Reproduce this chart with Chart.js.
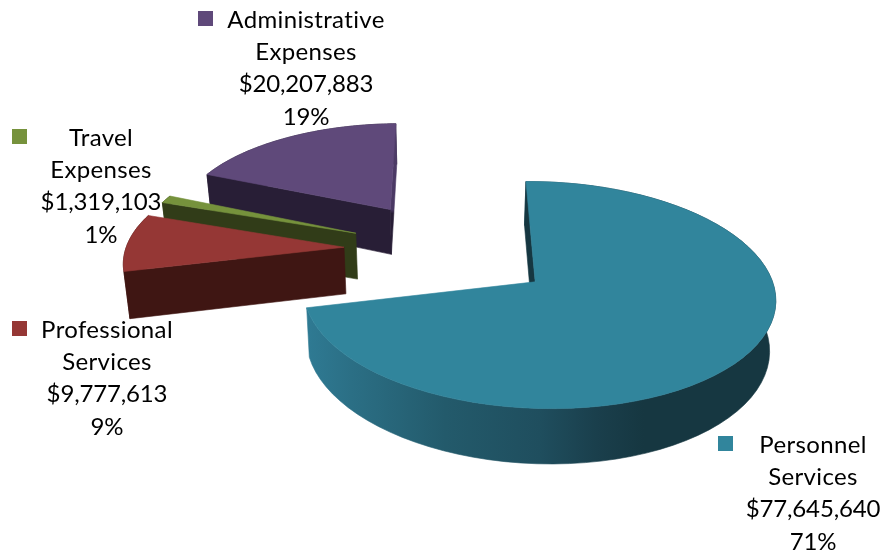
<!DOCTYPE html>
<html>
<head>
<meta charset="utf-8">
<title>Expenses by category</title>
<style>
  html, body { margin: 0; padding: 0; background: #fff; }
  canvas { display: block; }
</style>
<script src="https://cdn.jsdelivr.net/npm/chart.js@4"></script>
</head>
<body>
<canvas id="pie" width="888" height="554"></canvas>
<script>
// Expense totals, clockwise from the top
const categories = ['Personnel Services', 'Professional Services', 'Travel Expenses', 'Administrative Expenses'];
const amounts = [77645640, 9777613, 1319103, 20207883];

const topColors = ['#31859c', '#953735', '#76923c', '#5f497a'];
const sideColors = ['#163741', '#3f1613', '#313c18', '#281e36'];
const explode = [108, 104, 100, 108];

// Where each label block sits: centre of the text, first line, and its colour key
const labelSpots = [
  { x: 813, y: 445, keyX: 718, keyY: 436 },
  { x: 107, y: 330, keyX: 12, keyY: 321 },
  { x: 101, y: 138, keyX: 12, keyY: 129 },
  { x: 306, y: 20, keyX: 198, keyY: 11 }
];

const THICKNESS = 47;
const TILT = 0.4646;
const DEPTH_K = 0.0005;
const SIDE_K = 0.00006;
const NARROW = 0.0004;

// Flat pie coordinates to screen, with a little perspective
function project(arc, u, v, h) {
  const f = 1 / (1 - DEPTH_K * v - SIDE_K * u);
  return {
    x: arc.x + u * f * (1 - NARROW * h),
    y: arc.y + (v * TILT + h) * f
  };
}

function rimPoints(arc, h, reverse) {
  const mid = (arc.startAngle + arc.endAngle) / 2;
  const ox = Math.cos(mid) * arc.options.offset;
  const oy = Math.sin(mid) * arc.options.offset;
  const pts = [];
  const steps = 72;
  for (let i = 0; i <= steps; i++) {
    const t = reverse ? 1 - i / steps : i / steps;
    const a = arc.startAngle + (arc.endAngle - arc.startAngle) * t;
    pts.push(project(arc, ox + Math.cos(a) * arc.outerRadius, oy + Math.sin(a) * arc.outerRadius, h));
  }
  return { pts, apex: project(arc, ox, oy, h) };
}

function fillShape(ctx, pts, color) {
  ctx.beginPath();
  pts.forEach((p, i) => (i ? ctx.lineTo(p.x, p.y) : ctx.moveTo(p.x, p.y)));
  ctx.closePath();
  ctx.fillStyle = color;
  ctx.fill();
  ctx.strokeStyle = color;
  ctx.lineWidth = 0.6;
  ctx.stroke();
}

// A cut face shows only when the slice lies on the far side of its top edge
function cutFaces(apex, corner, near) {
  const ex = corner.x - apex.x, ey = corner.y - apex.y;
  const down = ex;
  const inside = ex * (near.y - apex.y) - ey * (near.x - apex.x);
  return down * inside < 0;
}

function drawSlice(ctx, arc, index) {
  const top = rimPoints(arc, 0, false);
  const low = rimPoints(arc, THICKNESS, false);
  const lowBack = rimPoints(arc, THICKNESS, true);
  const n = top.pts.length - 1;
  const first = top.pts[0], last = top.pts[n];
  const side = sideColors[index];

  // outer wall, shaded left to right on the big slice
  let wallFill = side;
  if (index === 0) {
    wallFill = ctx.createLinearGradient(304, 0, 776, 0);
    wallFill.addColorStop(0, '#2f7b94');
    wallFill.addColorStop(0.1, '#2b6f85');
    wallFill.addColorStop(0.3, '#235a6b');
    wallFill.addColorStop(0.5, '#1f4e5e');
    wallFill.addColorStop(0.62, '#1a3f4c');
    wallFill.addColorStop(0.72, '#163741');
    wallFill.addColorStop(1, '#163741');
  }
  fillShape(ctx, top.pts.concat(lowBack.pts), wallFill);

  // the end cut of the purple slice catches some light near its top
  let endFill = side;
  if (index === 3) {
    const stop = (top.apex.y - last.y) / (low.apex.y - last.y);
    endFill = ctx.createLinearGradient(0, last.y, 0, low.apex.y);
    endFill.addColorStop(0, '#4e3c68');
    endFill.addColorStop(stop, '#4a3863');
    endFill.addColorStop(stop + 0.03, side);
  }
  if (cutFaces(top.apex, last, top.pts[n - 1])) {
    fillShape(ctx, [top.apex, last, low.pts[n], low.apex], endFill);
  }
  if (cutFaces(top.apex, first, top.pts[1])) {
    fillShape(ctx, [top.apex, first, low.pts[0], low.apex], side);
  }

  fillShape(ctx, [top.apex].concat(top.pts), arc.options.backgroundColor);
}

const pie3d = {
  id: 'pie3d',
  beforeDatasetDraw(chart, args) {
    const ctx = chart.ctx;
    const arcs = args.meta.data;
    ctx.save();
    // back slices first so the nearer ones cover them
    for (let i = arcs.length - 1; i >= 0; i--) drawSlice(ctx, arcs[i], i);
    ctx.restore();
    return false;
  },
  afterDraw(chart) {
    const ctx = chart.ctx;
    const total = amounts.reduce((a, b) => a + b, 0);
    ctx.save();
    ctx.font = '24px Lato, Carlito, sans-serif';
    ctx.textAlign = 'center';
    ctx.textBaseline = 'middle';
    categories.forEach((name, i) => {
      const spot = labelSpots[i];
      ctx.fillStyle = topColors[i];
      ctx.fillRect(spot.keyX, spot.keyY, 15, 15);
      const words = name.split(' ');
      const lines = words.concat('$' + amounts[i].toLocaleString('en-US'), Math.round(amounts[i] / total * 100) + '%');
      ctx.fillStyle = '#000';
      lines.forEach((line, n) => {
        // words run a touch wider than the figures
        ctx.letterSpacing = n < words.length ? '0.35px' : '-0.15px';
        ctx.fillText(line, spot.x, spot.y + n * 32.3);
      });
    });
    ctx.restore();
  }
};

new Chart(document.getElementById('pie'), {
  type: 'pie',
  data: {
    labels: categories,
    datasets: [{
      data: amounts,
      backgroundColor: topColors,
      borderWidth: 0,
      offset: explode,
      radius: 224
    }]
  },
  options: {
    responsive: false,
    animation: false,
    events: [],
    radius: 224,
    layout: { padding: { left: 6, bottom: 55 } },
    plugins: { legend: { display: false }, tooltip: { enabled: false } }
  },
  plugins: [pie3d]
});
</script>
</body>
</html>
